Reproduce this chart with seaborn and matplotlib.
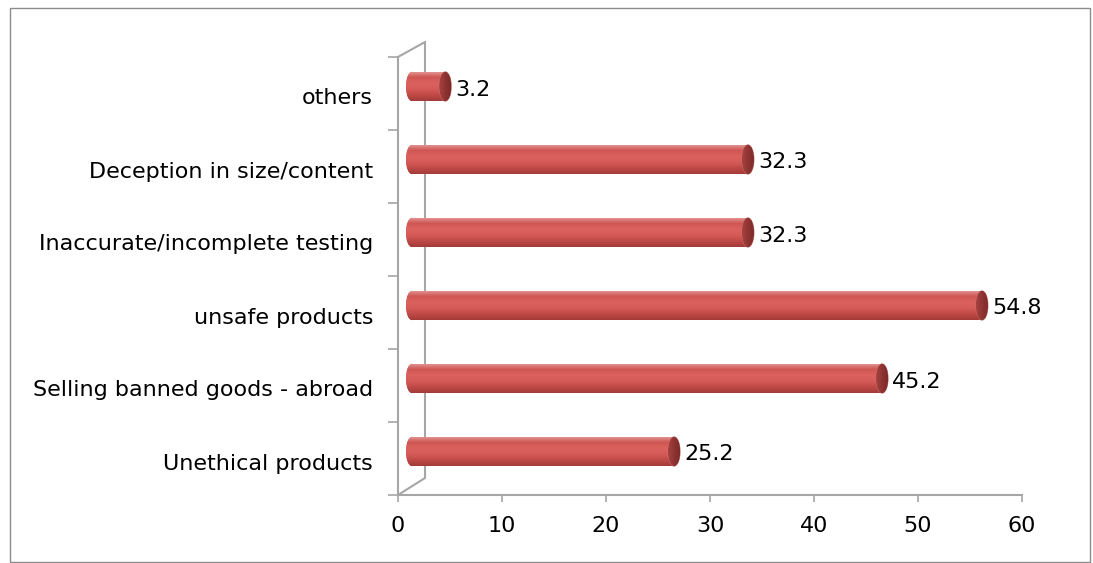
import numpy as np
import pandas as pd
import matplotlib
matplotlib.use("Agg")
import matplotlib.pyplot as plt
import seaborn as sns
from matplotlib.patches import Ellipse, Rectangle
from matplotlib.lines import Line2D
from matplotlib.transforms import offset_copy, ScaledTranslation
from matplotlib.colors import LinearSegmentedColormap

categories = ["others", "Deception in size/content", "Inaccurate/incomplete testing",
              "unsafe products", "Selling banned goods - abroad", "Unethical products"]
values = [3.2, 32.3, 32.3, 54.8, 45.2, 25.2]
value_labels = ["3.2", "32.3", "32.3", "54.8", "45.2", "25.2"]
xticks = [0, 10, 20, 30, 40, 50, 60]

sns.set_style("white")
plt.rcParams["font.family"] = ["DejaVu Sans"]
FS = 16

W, H = 1093, 563
fig = plt.figure(figsize=(W / 100, H / 100), dpi=100)

def fx(x):
    return x / W

def fy(y):
    return 1 - y / H

ax = fig.add_axes([fx(398), fy(495), (1022 - 398) / W, (495 - 57) / H])
df = pd.DataFrame({"cat": categories, "val": values})
sns.barplot(data=df, x="val", y="cat", orient="h", color="#C9504D", saturation=1,
            width=0.40, ax=ax, edgecolor="none")

DX, DY = 14, 7
tr = offset_copy(ax.transData, fig=fig, x=DX, y=DY, units="dots")
px_per_unit = 624 / 60
cap_w = 12 / px_per_unit

cmap = LinearSegmentedColormap.from_list(
    "cyl", ["#E49C99", "#CF5652", "#DB625F", "#D65B58", "#C04A47", "#A33B38"])
grad = np.linspace(0, 1, 64).reshape(-1, 1)
cap_cmap = LinearSegmentedColormap.from_list("cap", ["#A6423F", "#8E3432", "#7A2B29"])

for p in list(ax.patches):
    p.set_transform(tr)
    x0, y0, w, h = p.get_x(), p.get_y(), p.get_width(), p.get_height()
    le = Ellipse((x0, y0 + h / 2), cap_w, h, facecolor="#C04B48", edgecolor="none",
                 transform=tr, zorder=1.5)
    ax.add_patch(le)
    for clip in (p, le):
        im = ax.imshow(grad, cmap=cmap, aspect="auto",
                       extent=[x0 - cap_w / 2, x0 + w, y0 + h, y0],
                       zorder=2, interpolation="bilinear")
        im.set_transform(tr)
        im.set_clip_path(clip)
    cap = Ellipse((x0 + w, y0 + h / 2), cap_w, h, facecolor="#8F3533", edgecolor="#C97370",
                  linewidth=0.7, transform=tr, zorder=3)
    ax.add_patch(cap)
    imc = ax.imshow(np.linspace(0, 1, 32).reshape(1, -1), cmap=cap_cmap, aspect="auto",
                    extent=[x0 + w - cap_w / 2, x0 + w + cap_w / 2, y0 + h, y0],
                    zorder=3.1, interpolation="bilinear")
    imc.set_transform(tr)
    imc.set_clip_path(cap)

for i, (v, lab) in enumerate(zip(values, value_labels)):
    ax.text(v, i, lab, transform=offset_copy(ax.transData, fig=fig, x=DX + 10, y=DY - 3, units="dots"),
            ha="left", va="center", fontsize=FS, color="#000000")

ax.set_xlim(0, 60)
ax.set_ylim(5.5, -0.5)
ax.set_xticks(xticks)
ax.set_xticklabels([str(t) for t in xticks], fontsize=FS, color="#000000")
ax.set_xlabel("")
ax.set_ylabel("")
ax.set_yticks(range(len(categories)))
ax.set_yticklabels(categories, fontsize=FS, color="#000000")
ax.set_yticks(np.arange(-0.5, 6.0, 1.0), minor=True)
ax.tick_params(axis="y", which="major", length=0, pad=18)
ax.tick_params(axis="y", which="minor", length=7, width=1.2, color="#A6A6A6", direction="out", left=True)
ax.tick_params(axis="x", which="major", length=5, width=1.2, color="#A6A6A6", direction="out",
               bottom=True, pad=10)
shift = ScaledTranslation(0, -3 / 100, fig.dpi_scale_trans)
for t in ax.get_yticklabels():
    t.set_transform(t.get_transform() + shift)
for s in ["top", "right"]:
    ax.spines[s].set_visible(False)
for s in ["left", "bottom"]:
    ax.spines[s].set_color("#A6A6A6")
    ax.spines[s].set_linewidth(1.5)
ax.set_facecolor("none")

gray = "#A6A6A6"
for (xa, ya, xb, yb) in [(425, 42, 425, 478), (398, 57, 425, 42), (398, 495, 425, 478)]:
    fig.add_artist(Line2D([fx(xa), fx(xb)], [fy(ya), fy(yb)], color=gray, lw=1.5, zorder=0))

fig.add_artist(Rectangle((fx(10), fy(562)), (1090 - 10) / W, (562 - 8) / H, fill=False,
                         edgecolor="#8C8C8C", lw=1.0, transform=fig.transFigure))

fig.savefig("out.png", dpi=100)
